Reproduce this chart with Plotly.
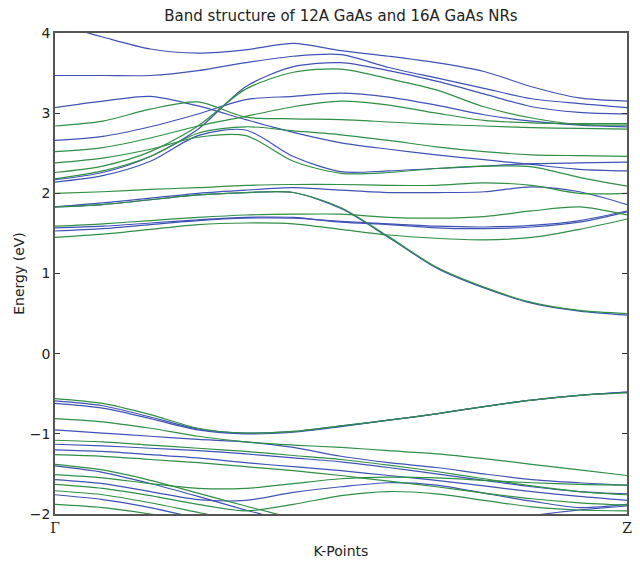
import plotly.graph_objects as go

# k-path sampled every 1/12 from Gamma (0) to Z (1)
k_points = [i / 12 for i in range(13)]
k_tick_vals = [0, 1]
k_tick_text = ["Γ", "Z"]
y_tick_vals = [-2, -1, 0, 1, 2, 3, 4]
y_tick_text = ["\u22122", "\u22121", "0", "1", "2", "3", "4"]

# 12A GaAs NR bands (blue), eV
blue_bands = [
    [4.12, 3.95, 3.80, 3.75, 3.79, 3.87, 3.78, 3.71, 3.63, 3.52, 3.33, 3.19, 3.15],
    [3.47, 3.47, 3.47, 3.53, 3.63, 3.71, 3.73, 3.57, 3.44, 3.31, 3.18, 3.12, 3.07],
    [2.17, 2.26, 2.46, 2.80, 3.33, 3.58, 3.63, 3.53, 3.40, 3.24, 3.08, 3.01, 2.99],
    [2.66, 2.71, 2.83, 2.99, 3.17, 3.21, 3.25, 3.20, 3.10, 2.98, 2.90, 2.85, 2.83],
    [3.07, 3.15, 3.21, 3.09, 2.92, 2.76, 2.63, 2.55, 2.48, 2.42, 2.36, 2.30, 2.28],
    [2.14, 2.22, 2.40, 2.72, 2.79, 2.46, 2.27, 2.28, 2.31, 2.34, 2.37, 2.38, 2.39],
    [1.83, 1.88, 1.94, 2.00, 2.04, 2.07, 2.04, 2.01, 2.01, 2.02, 2.08, 2.02, 1.86],
    [1.83, 1.86, 1.92, 1.98, 2.01, 2.01, 1.81, 1.45, 1.07, 0.82, 0.63, 0.53, 0.48],
    [1.57, 1.59, 1.63, 1.67, 1.70, 1.70, 1.64, 1.61, 1.57, 1.56, 1.58, 1.64, 1.77],
    [1.53, 1.56, 1.61, 1.66, 1.69, 1.69, 1.65, 1.62, 1.59, 1.58, 1.60, 1.66, 1.78],
    [-0.59, -0.65, -0.79, -0.94, -0.99, -0.97, -0.90, -0.83, -0.75, -0.66, -0.58, -0.52, -0.48],
    [-0.62, -0.68, -0.81, -0.95, -1.00, -0.98, -0.91, -0.83, -0.75, -0.66, -0.58, -0.52, -0.48],
    [-0.95, -0.99, -1.03, -1.07, -1.10, -1.17, -1.28, -1.36, -1.42, -1.50, -1.57, -1.61, -1.64],
    [-1.13, -1.15, -1.18, -1.21, -1.25, -1.30, -1.35, -1.42, -1.50, -1.58, -1.66, -1.72, -1.75],
    [-1.20, -1.22, -1.26, -1.30, -1.36, -1.41, -1.46, -1.52, -1.58, -1.65, -1.72, -1.78, -1.83],
    [-1.40, -1.48, -1.62, -1.78, -1.95, -2.10, -2.20, -2.25, -2.25, -2.25, -2.25, -2.25, -2.25],
    [-1.57, -1.62, -1.72, -1.82, -1.83, -1.73, -1.66, -1.61, -1.64, -1.74, -1.84, -1.92, -1.88],
    [-1.76, -1.82, -1.92, -2.05, -2.15, -2.20, -2.20, -2.20, -2.15, -2.10, -2.02, -1.95, -1.90],
]

# 16A GaAs NR bands (green), eV
green_bands = [
    [2.26, 2.34, 2.52, 2.84, 3.30, 3.51, 3.55, 3.43, 3.29, 3.08, 2.94, 2.86, 2.85],
    [2.84, 2.90, 3.05, 3.14, 2.95, 2.93, 2.92, 2.89, 2.86, 2.84, 2.82, 2.81, 2.80],
    [2.52, 2.57, 2.69, 2.84, 2.96, 3.08, 3.15, 3.10, 3.00, 2.91, 2.88, 2.87, 2.87],
    [2.38, 2.44, 2.55, 2.70, 2.72, 2.40, 2.25, 2.26, 2.31, 2.34, 2.33, 2.20, 2.09],
    [2.18, 2.28, 2.46, 2.75, 2.83, 2.78, 2.73, 2.66, 2.58, 2.52, 2.48, 2.47, 2.46],
    [2.00, 2.02, 2.05, 2.07, 2.10, 2.11, 2.11, 2.10, 2.10, 2.13, 2.10, 2.00, 2.00],
    [1.83, 1.86, 1.92, 1.98, 2.01, 2.01, 1.82, 1.46, 1.08, 0.83, 0.64, 0.54, 0.50],
    [1.59, 1.62, 1.66, 1.70, 1.73, 1.74, 1.74, 1.70, 1.69, 1.71, 1.78, 1.83, 1.73],
    [1.45, 1.49, 1.55, 1.61, 1.63, 1.62, 1.55, 1.48, 1.44, 1.42, 1.45, 1.55, 1.68],
    [-0.56, -0.62, -0.76, -0.93, -0.99, -0.97, -0.90, -0.83, -0.75, -0.66, -0.58, -0.52, -0.49],
    [-0.81, -0.85, -0.93, -1.03, -1.10, -1.14, -1.17, -1.21, -1.25, -1.31, -1.38, -1.45, -1.52],
    [-1.08, -1.10, -1.14, -1.18, -1.22, -1.27, -1.32, -1.39, -1.47, -1.56, -1.65, -1.72, -1.76],
    [-1.26, -1.28, -1.32, -1.36, -1.41, -1.46, -1.52, -1.59, -1.66, -1.74, -1.81, -1.86, -1.89],
    [-1.38, -1.45, -1.58, -1.74, -1.90, -2.05, -2.15, -2.20, -2.20, -2.20, -2.20, -2.20, -2.20],
    [-1.51, -1.55, -1.62, -1.68, -1.68, -1.62, -1.56, -1.54, -1.55, -1.58, -1.61, -1.63, -1.64],
    [-1.63, -1.68, -1.77, -1.88, -1.96, -1.88, -1.77, -1.72, -1.75, -1.83, -1.91, -1.95, -1.96],
    [-1.71, -1.76, -1.86, -1.98, -2.10, -2.20, -2.20, -2.20, -2.20, -2.20, -2.20, -2.20, -2.20],
    [-1.88, -1.92, -2.00, -2.10, -2.20, -2.20, -2.20, -2.20, -2.20, -2.20, -2.20, -2.20, -2.20],
]

BLUE = "#3f52b5"
GREEN = "#2f8f45"

fig = go.Figure()
for band in blue_bands:
    fig.add_trace(go.Scatter(x=k_points, y=band, mode="lines",
                             line=dict(color=BLUE, width=1.2, shape="spline", smoothing=0.8),
                             showlegend=False, hoverinfo="skip"))
for band in green_bands:
    fig.add_trace(go.Scatter(x=k_points, y=band, mode="lines",
                             line=dict(color=GREEN, width=1.2, shape="spline", smoothing=0.8),
                             showlegend=False, hoverinfo="skip"))

fig.update_layout(
    width=640, height=565,
    margin=dict(l=55, r=8, t=33, b=49),
    paper_bgcolor="white", plot_bgcolor="white",
    font=dict(family="DejaVu Sans", size=13, color="#222"),
    title=dict(text="Band structure of 12A GaAs and 16A GaAs NRs",
               xref="paper", x=0.5, xanchor="center", y=0.973, yanchor="middle",
               font=dict(size=15, color="#222")),
)
fig.update_xaxes(
    range=[0, 1], tickvals=k_tick_vals, ticktext=k_tick_text,
    tickfont=dict(family="DejaVu Serif", size=14),
    showgrid=False, zeroline=False, showline=True, linecolor="#555", linewidth=1.5,
    mirror=True, ticks="", title=dict(text="K-Points", font=dict(size=14), standoff=12),
)
fig.update_yaxes(
    range=[-2, 4], tickvals=y_tick_vals, ticktext=y_tick_text,
    tickfont=dict(size=14),
    showgrid=False, zeroline=False, showline=True, linecolor="#555", linewidth=1.5,
    mirror="ticks", ticks="inside", ticklen=5, tickcolor="#333",
    title=dict(text="Energy (eV)", font=dict(size=14), standoff=2),
)

fig.write_html("out.html")
